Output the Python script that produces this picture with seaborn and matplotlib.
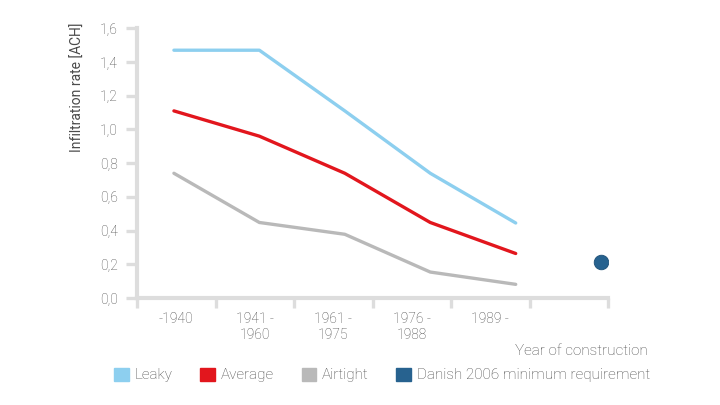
import matplotlib
matplotlib.use("Agg")
import matplotlib.pyplot as plt
from matplotlib.patches import Patch
import seaborn as sns
import pandas as pd
import numpy as np

# ---- data ----
categories = ["-1940", "1941 -\n1960", "1961 -\n1975", "1976 -\n1988", "1989 -", ""]
series_names = ["Leaky", "Average", "Airtight"]
leaky = [1.47, 1.47, 1.11, 0.74, 0.445]
average = [1.11, 0.96, 0.74, 0.448, 0.264]
airtight = [0.74, 0.448, 0.378, 0.154, 0.081]
danish_label = "Danish 2006 minimum requirement"
danish_value = [0.214]
danish_index = [5]
y_ticks = [0.0, 0.2, 0.4, 0.6, 0.8, 1.0, 1.2, 1.4, 1.6]

colors = {"Leaky": "#8dcfef", "Average": "#e2161d", "Airtight": "#b9b9b9"}
danish_color = "#27628f"
axis_color = "#dddddd"
text_color = "#4a4a4a"

rows = []
for name, vals in zip(series_names, [leaky, average, airtight]):
    for i, v in enumerate(vals):
        rows.append({"idx": i, "value": v, "series": name})
df = pd.DataFrame(rows)
df_dot = pd.DataFrame({"idx": danish_index, "value": danish_value})

sns.set_theme(style="white")
plt.rcParams["font.family"] = ["Roboto", "DejaVu Sans"]
plt.rcParams["font.weight"] = "light"

fig = plt.figure(figsize=(7.2, 4.05), dpi=100)
ax = fig.add_axes([137/720, 1-298/405, (608-137)/720, (298-28.3)/405])

# category axis
ax.set_xlim(0, len(categories))
ax.set_ylim(0, 1.6)
ax.set_xticks(np.arange(len(categories) + 1))
ax.set_xticklabels([])
ax.set_xticks(np.arange(len(categories)) + 0.5, minor=True)
ax.set_xticklabels(categories, minor=True)
ax.tick_params(axis="x", which="major", length=7.5, width=2.4, color=axis_color, direction="out")
ax.tick_params(axis="x", which="minor", length=0, pad=10, labelsize=10, labelcolor=text_color)
ax.set_yticks(y_ticks)
ax.set_yticklabels([f"{t:.1f}".replace(".", ",") for t in y_ticks])
ax.tick_params(axis="y", length=8, width=2.4, color=axis_color, pad=6, labelsize=10,
               labelcolor=text_color, left=True)
for s in ["top", "right"]:
    ax.spines[s].set_visible(False)
for s in ["left", "bottom"]:
    ax.spines[s].set_color(axis_color)
    ax.spines[s].set_linewidth(3)

# data axis (points spaced differently, as in the original)
ax2 = ax.twiny()
sns.lineplot(data=df, x="idx", y="value", hue="series", palette=colors, ax=ax2,
             linewidth=2.4, legend=False)
sns.scatterplot(data=df_dot, x="idx", y="value", color=danish_color, s=110,
                edgecolor="#1d4f77", linewidth=0.6, ax=ax2, legend=False, zorder=5)
ax2.set_xlim(-0.432, 5.08)
ax2.set_ylim(0, 1.6)
ax2.set_xticks([])
ax2.set_xlabel("")
ax2.set_ylabel("")
for s in ax2.spines.values():
    s.set_visible(False)

ax.set_ylabel("Infiltration rate [ACH]", fontsize=10, color=text_color, loc="top")
ax.yaxis.label.set_position((0, 1.02))
ax.yaxis.labelpad = 11

fig.text(648/720, 1-351/405, "Year of construction", ha="right", va="center",
         fontsize=11, color=text_color)

handles = [Patch(facecolor=colors[n], edgecolor=colors[n]) for n in series_names]
handles.append(Patch(facecolor=danish_color, edgecolor=danish_color))
labels = series_names + [danish_label]
leg = fig.legend(handles, labels, ncol=4, loc="center right",
                 bbox_to_anchor=(650/720, 1-375/405), frameon=False, fontsize=11,
                 handlelength=0.95, handleheight=0.95, handletextpad=0.4,
                 columnspacing=1.8, borderpad=0, borderaxespad=0)
for t in leg.get_texts():
    t.set_color(text_color)

fig.savefig("out.png", dpi=100)
